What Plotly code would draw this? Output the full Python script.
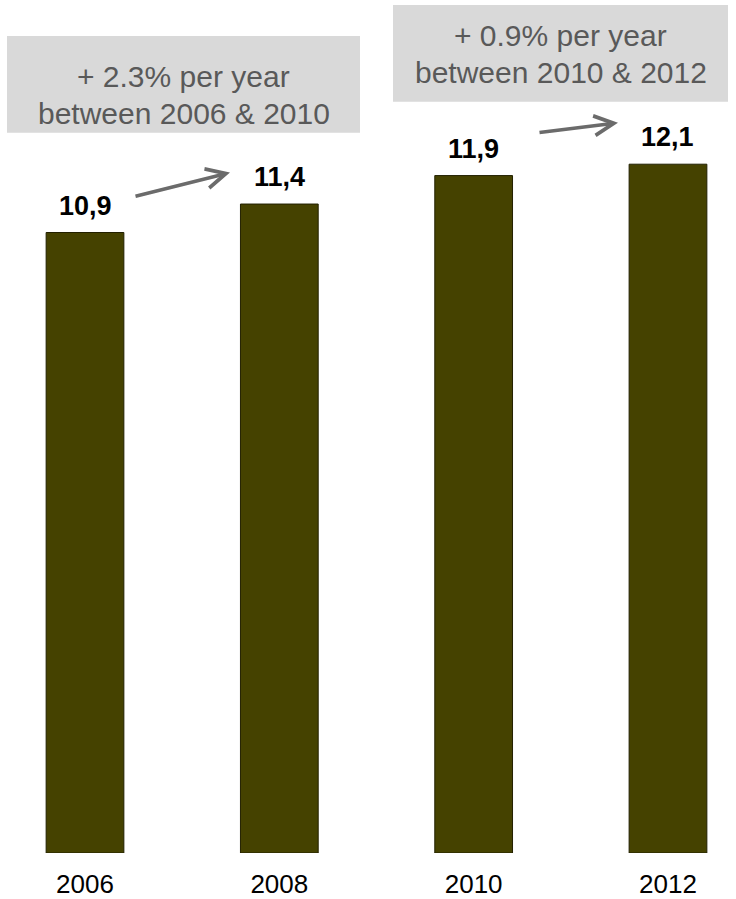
import plotly.graph_objects as go

# ---- data ----
years = ["2006", "2008", "2010", "2012"]
values = [10.9, 11.4, 11.9, 12.1]
value_labels = ["10,9", "11,4", "11,9", "12,1"]
growth_lines = [
    ["+ 2.3% per year", "between 2006 & 2010"],
    ["+ 0.9% per year", "between 2010 & 2012"],
]

W, H = 736, 899
MB = 44                    # bottom margin
PLOT_H = H - MB            # plot area height in px
X0_PX, STEP_PX = 85.0, 194.33
Y_MAX = PLOT_H / 57.06

def px_to_paper_x(px):
    return px / W

def px_to_paper_y(py):
    return 1 - py / PLOT_H

FONT = "Arial, Liberation Sans, sans-serif"
BAR_COLOR = "#454200"
GRAY_TEXT = "#595959"
BOX_FILL = "#d9d9d9"
ARROW_COLOR = "#6b6b6b"

fig = go.Figure()
fig.add_trace(go.Bar(
    x=years, y=values, width=0.4,
    marker=dict(color=BAR_COLOR, line=dict(color="#222000", width=1)),
    hoverinfo="skip",
))

annotations = []
# value labels above bars
for i, (v, lab) in enumerate(zip(values, value_labels)):
    annotations.append(dict(
        x=i, y=v, xref="x", yref="y", text="<b>" + lab + "</b>", showarrow=False,
        xanchor="center", yanchor="bottom", yshift=10,
        font=dict(family=FONT, size=27, color="#000000"),
    ))

# grey boxes with growth text
boxes = [(7, 36, 360, 133), (393, 5, 728, 102)]
line_centers = [(76.6, 113.6), (35.6, 72.6)]
shapes = []
for (x0, y0, x1, y1), lines, centers in zip(boxes, growth_lines, line_centers):
    shapes.append(dict(
        type="rect", xref="paper", yref="paper",
        x0=px_to_paper_x(x0), x1=px_to_paper_x(x1),
        y0=px_to_paper_y(y1), y1=px_to_paper_y(y0),
        fillcolor=BOX_FILL, line=dict(width=0), layer="below",
    ))
    cx = (x0 + x1) / 2
    for txt, cy in zip(lines, centers):
        annotations.append(dict(
            x=px_to_paper_x(cx), y=px_to_paper_y(cy), xref="paper", yref="paper",
            text=txt, showarrow=False, xanchor="center", yanchor="middle",
            font=dict(family=FONT, size=30, color=GRAY_TEXT),
        ))

# arrows (tail -> head) in px
arrows = [((134, 197), (230, 173)), ((538, 133), (618, 123))]
for (tx, ty), (hx, hy) in arrows:
    annotations.append(dict(
        x=px_to_paper_x(hx), y=px_to_paper_y(hy), xref="paper", yref="paper",
        ax=tx - hx, ay=ty - hy, axref="pixel", ayref="pixel",
        showarrow=True, arrowhead=5, arrowsize=1.1, arrowwidth=3.5,
        arrowcolor=ARROW_COLOR, text="", standoff=0,
    ))

fig.update_layout(
    width=W, height=H,
    margin=dict(l=0, r=0, t=0, b=MB),
    paper_bgcolor="white", plot_bgcolor="white",
    showlegend=False, bargap=0.6,
    annotations=annotations, shapes=shapes,
    font=dict(family=FONT),
)
fig.update_xaxes(
    type="category",
    range=[-X0_PX / STEP_PX, (W - X0_PX) / STEP_PX],
    showgrid=False, showline=False, zeroline=False,
    ticks="", tickfont=dict(family=FONT, size=26, color="#000000"),
    ticklabelstandoff=13,
)
fig.update_yaxes(
    range=[0, Y_MAX], visible=False, showgrid=False, zeroline=False,
)

fig.write_html("out.html")
